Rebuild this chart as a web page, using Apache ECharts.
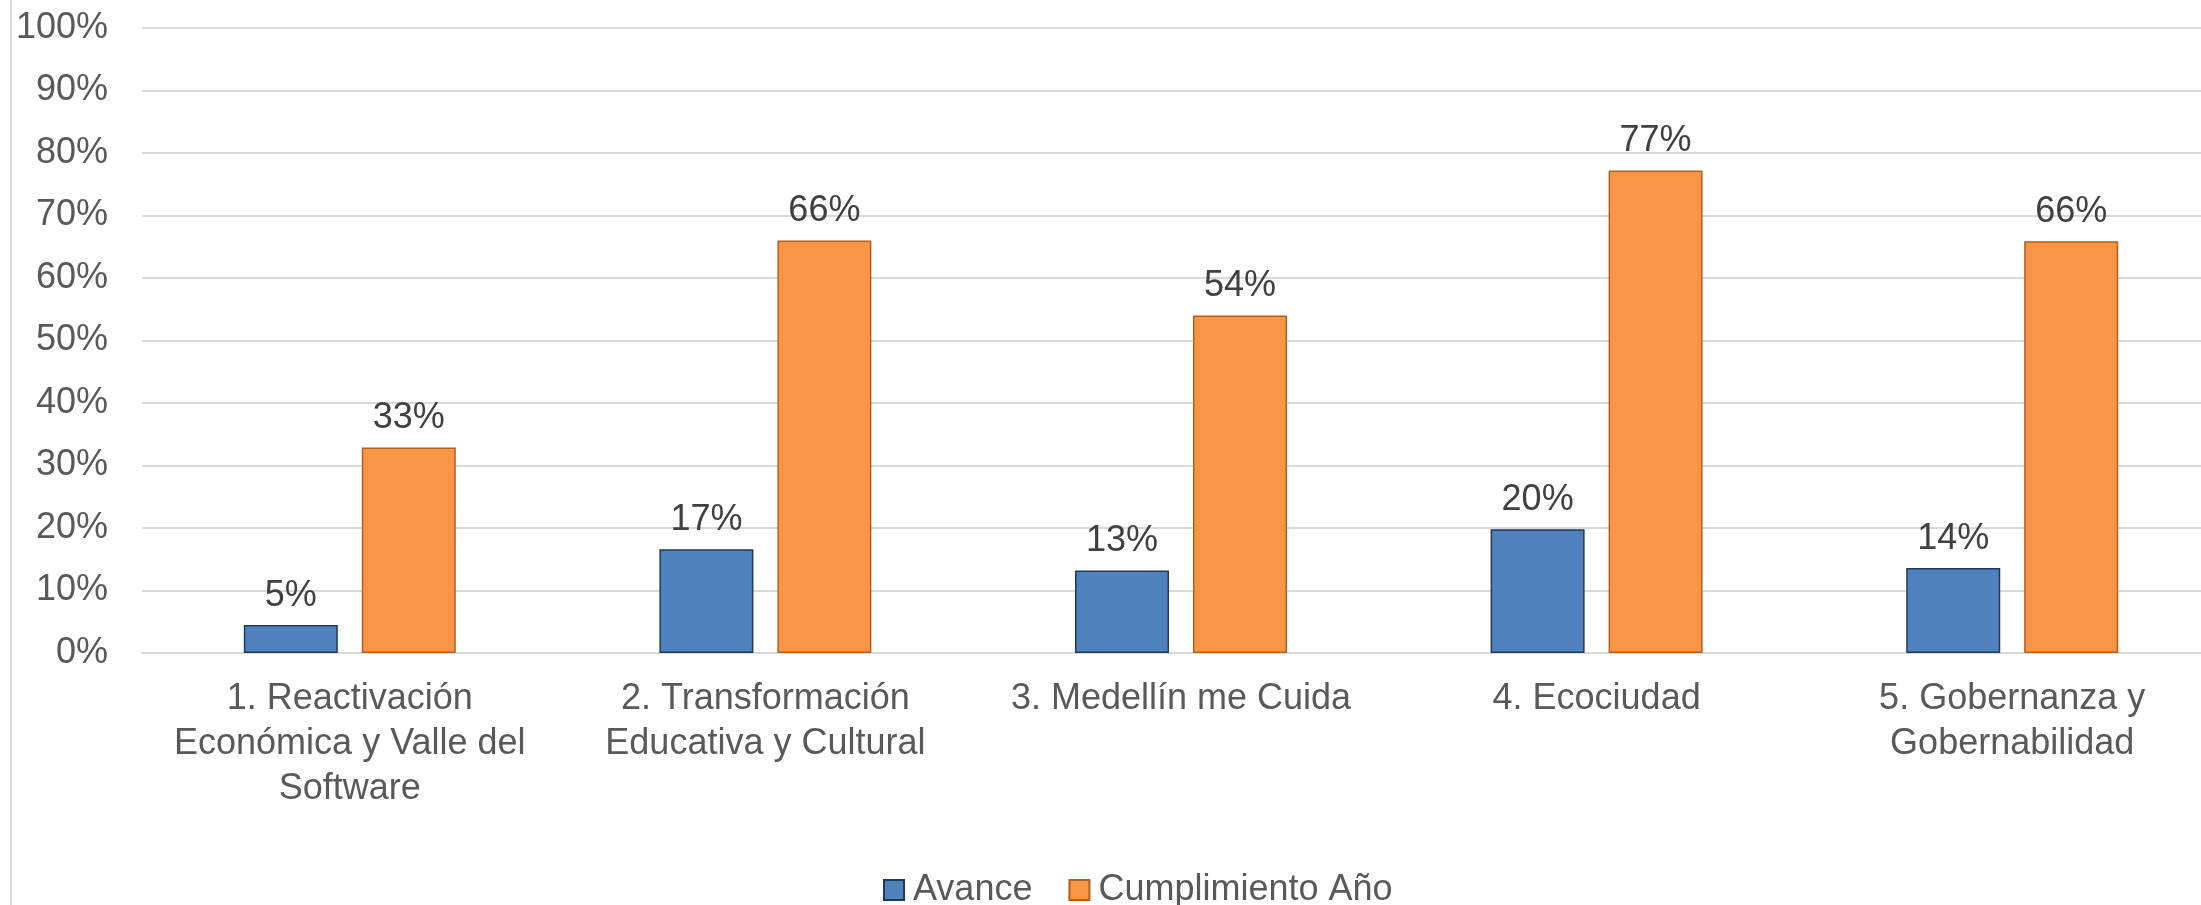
<!DOCTYPE html>
<html>
<head>
<meta charset="utf-8">
<script src="https://cdn.jsdelivr.net/npm/echarts@6/dist/echarts.min.js"></script>
<style>
  html, body { margin: 0; padding: 0; background: #fff; overflow: hidden; }
  /* el gráfico original está recortado a la derecha: lienzo un poco más ancho que la ventana */
  #chart { width: 2220px; height: 905px; }
</style>
</head>
<body>
<div id="chart"></div>
<script>
// datos (en %)
const categories = [
  "1. Reactivación\nEconómica y Valle del\nSoftware",
  "2. Transformación\nEducativa y Cultural",
  "3. Medellín me Cuida",
  "4. Ecociudad",
  "5. Gobernanza y\nGobernabilidad"
];
const avance = [4.5, 16.6, 13.2, 19.8, 13.6];
const cumplimientoAnio = [32.9, 66.0, 54.0, 77.2, 65.9];
const seriesNames = ["Avance", "Cumplimiento Año"];

const font = "'Liberation Sans', Arial, sans-serif";

const chart = echarts.init(document.getElementById("chart"));

chart.setOption({
  animation: false,
  textStyle: { fontFamily: font },
  grid: {
    left: 142,
    right: 0,
    top: 28,
    height: 625,
    containLabel: false
  },
  legend: {
    data: seriesNames,
    left: 878,
    top: 867,
    itemWidth: 20,
    itemHeight: 20,
    itemGap: 36,
    icon: "rect",
    textStyle: {
      fontFamily: font,
      fontSize: 36,
      color: "#595959",
      padding: [0, 0, 0, 4]
    }
  },
  xAxis: {
    type: "category",
    data: categories,
    axisTick: { show: false },
    axisLine: { lineStyle: { color: "#d9d9d9", width: 2 } },
    axisLabel: {
      interval: 0,
      margin: 24,
      fontFamily: font,
      fontSize: 36,
      lineHeight: 45,
      color: "#595959",
      align: "center"
    }
  },
  yAxis: {
    type: "value",
    min: 0,
    max: 100,
    interval: 10,
    axisLine: { show: false },
    axisTick: { show: false },
    splitLine: { lineStyle: { color: "#d9d9d9", width: 2 } },
    axisLabel: {
      formatter: "{value}%",
      margin: 34,
      fontFamily: font,
      fontSize: 36,
      color: "#595959"
    }
  },
  series: [
    {
      name: seriesNames[0],
      type: "bar",
      data: avance,
      barWidth: 94,
      barGap: "25.5%",
      itemStyle: { color: "#4f81bd", borderColor: "#1f3a60", borderWidth: 1.5 },
      label: {
        show: true,
        position: "top",
        distance: 11,
        fontFamily: font,
        fontSize: 36,
        color: "#404040",
        formatter: p => Math.round(p.value) + "%"
      }
    },
    {
      name: seriesNames[1],
      type: "bar",
      data: cumplimientoAnio,
      barWidth: 94,
      itemStyle: { color: "#f79646", borderColor: "#b65f1c", borderWidth: 1.5 },
      label: {
        show: true,
        position: "top",
        distance: 11,
        fontFamily: font,
        fontSize: 36,
        color: "#404040",
        formatter: p => Math.round(p.value) + "%"
      }
    }
  ],
  // borde izquierdo del área del gráfico
  graphic: [
    {
      type: "line",
      shape: { x1: 11, y1: 0, x2: 11, y2: 905 },
      style: { stroke: "#d9d9d9", lineWidth: 2 },
      silent: true
    }
  ]
});
</script>
</body>
</html>
